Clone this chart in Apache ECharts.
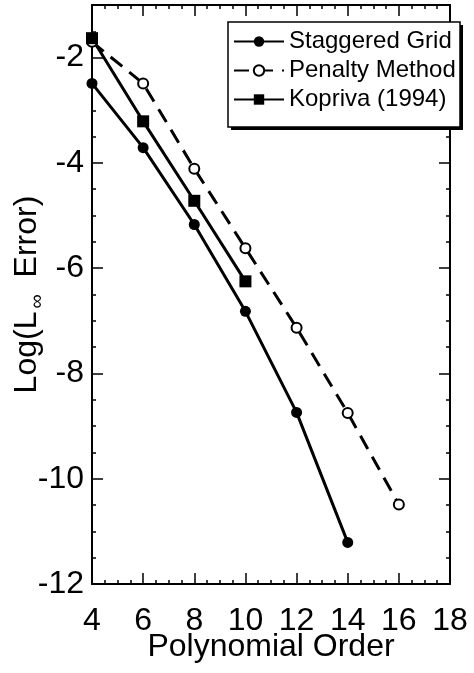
<!DOCTYPE html>
<html>
<head>
<meta charset="utf-8">
<script src="https://cdn.jsdelivr.net/npm/echarts@6/dist/echarts.min.js"></script>
<style>
  html, body { margin: 0; padding: 0; background: #fff; }
  #chart { width: 474px; height: 673px; }
</style>
</head>
<body>
<div id="chart"></div>
<script>
// Polynomial orders and log10 of the max-norm error for each scheme
const orders = [4, 6, 8, 10, 12, 14, 16];
const staggeredGrid = [-2.49, -3.71, -5.17, -6.82, -8.74, -11.21];
const penaltyMethod = [-1.70, -2.49, -4.11, -5.62, -7.13, -8.75, -10.49];
const kopriva1994 = [-1.63, -3.21, -4.72, -6.25];

const seriesNames = ['Staggered Grid', 'Penalty Method', 'Kopriva (1994)'];

const FONT = '"Liberation Sans", Arial, Helvetica, sans-serif';
const X_MIN = 4, X_MAX = 18, X_STEP = 2;
const Y_MIN = -12, Y_MAX = -1, Y_STEP = 2;
const MINOR_STEP = 0.5;

// Legend frame with a hard drop shadow
const LEGEND_BOX = { x: 228, y: 22, width: 232, height: 105 };
const SHADOW_OFFSET = 3;

function pairs(values) {
  return values.map((v, i) => [orders[i], v]);
}

// One axis with major ticks, one with minor ticks, on each of the four sides
function xAxisDef(position, major, withLabels) {
  return {
    type: 'value', position, min: X_MIN, max: X_MAX,
    interval: major ? X_STEP : MINOR_STEP,
    axisLine: { show: major, lineStyle: { color: '#000', width: 2 } },
    axisTick: { show: true, inside: true, length: major ? 11 : 4, lineStyle: { color: '#000', width: 1.5 } },
    axisLabel: { show: withLabels, color: '#000', fontSize: 32, fontFamily: FONT, margin: 21 },
    splitLine: { show: false },
    name: withLabels ? 'Polynomial Order' : '',
    nameLocation: 'middle', nameGap: 47, nameMoveOverlap: false,
    nameTextStyle: { color: '#000', fontSize: 32, fontFamily: FONT }
  };
}
function yAxisDef(position, major, withLabels) {
  return {
    type: 'value', position, min: Y_MIN, max: Y_MAX,
    interval: major ? Y_STEP : MINOR_STEP,
    axisLine: { show: major, lineStyle: { color: '#000', width: 2 } },
    axisTick: { show: true, inside: true, length: major ? 11 : 4, lineStyle: { color: '#000', width: 1.5 } },
    axisLabel: {
      show: withLabels, color: '#000', fontSize: 32, fontFamily: FONT, margin: 8,
      formatter: v => (v % 2 === 0 ? String(v) : '')
    },
    splitLine: { show: false },
    name: withLabels ? 'Log(L{s|∞} Error)' : '',
    nameLocation: 'middle', nameGap: 45, nameRotate: 90, nameMoveOverlap: false,
    nameTextStyle: {
      color: '#000', fontSize: 32, fontFamily: FONT,
      rich: { s: { fontSize: 20, fontFamily: FONT, color: '#000', verticalAlign: 'bottom', lineHeight: 40, padding: [0, 8, 0, 3] } }
    }
  };
}

const chart = echarts.init(document.getElementById('chart'), null, { renderer: 'canvas' });
chart.setOption({
  backgroundColor: '#fff',
  animation: false,
  grid: { left: 92, right: 24, top: 5, bottom: 89, containLabel: false, outerBoundsMode: 'none' },
  xAxis: [
    xAxisDef('bottom', true, true),
    xAxisDef('bottom', false, false),
    xAxisDef('top', true, false),
    xAxisDef('top', false, false)
  ],
  yAxis: [
    yAxisDef('left', true, true),
    yAxisDef('left', false, false),
    yAxisDef('right', true, false),
    yAxisDef('right', false, false)
  ],
  graphic: [
    {
      type: 'rect', z: 5, silent: true,
      shape: { x: LEGEND_BOX.x + SHADOW_OFFSET, y: LEGEND_BOX.y + SHADOW_OFFSET, width: LEGEND_BOX.width, height: LEGEND_BOX.height },
      style: { fill: '#000' }
    },
    {
      type: 'rect', z: 5, silent: true,
      shape: { x: LEGEND_BOX.x, y: LEGEND_BOX.y, width: LEGEND_BOX.width, height: LEGEND_BOX.height },
      style: { fill: '#fff', stroke: '#000', lineWidth: 1.5 }
    }
  ],
  legend: {
    orient: 'vertical', left: LEGEND_BOX.x, top: LEGEND_BOX.y, z: 6,
    data: seriesNames,
    itemWidth: 50, itemHeight: 13, itemGap: 2,
    padding: [6, 6, 10, 5],
    textStyle: { color: '#000', fontSize: 24, fontFamily: FONT, lineHeight: 27 }
  },
  series: [
    {
      name: seriesNames[0], type: 'line', data: pairs(staggeredGrid),
      symbol: 'circle', symbolSize: 11,
      lineStyle: { color: '#000', width: 3 },
      itemStyle: { color: '#000' }
    },
    {
      name: seriesNames[1], type: 'line', data: pairs(penaltyMethod),
      symbol: 'emptyCircle', symbolSize: 10,
      lineStyle: { color: '#000', width: 3, type: [15, 9] },
      itemStyle: { color: '#000', borderColor: '#000', borderWidth: 1 }
    },
    {
      name: seriesNames[2], type: 'line', data: pairs(kopriva1994),
      symbol: 'rect', symbolSize: 12,
      lineStyle: { color: '#000', width: 3 },
      itemStyle: { color: '#000' }
    }
  ]
});
</script>
</body>
</html>
